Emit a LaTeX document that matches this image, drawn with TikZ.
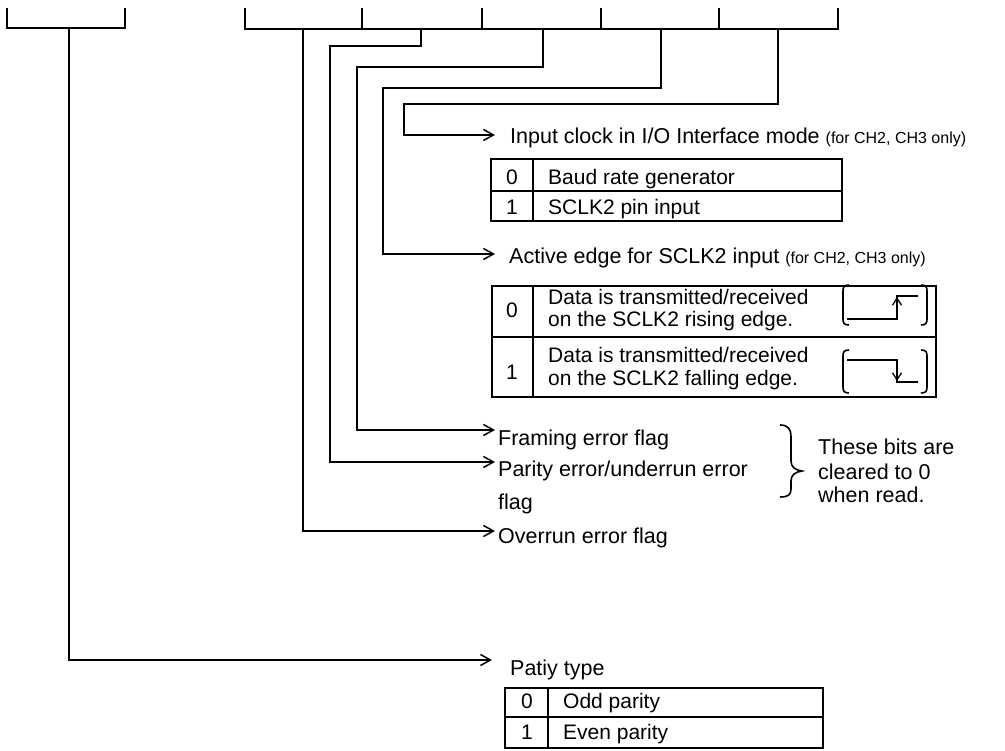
\documentclass[tikz,border=0pt]{standalone}
\usepackage{fontspec}
\setmainfont{Liberation Sans}
\usetikzlibrary{arrows.meta}
\begin{document}
\begin{tikzpicture}[x=1pt,y=-1pt,
  ln/.style={line width=1.8pt},
  arr/.style={ln,-{Straight Barb[length=10pt,width=11pt,line width=1.5pt]}},
  sarr/.style={line width=1.6pt,-{Straight Barb[length=7pt,width=9pt,line width=1.3pt]}},
  lbl/.style={anchor=base west,inner sep=0pt,font=\fontsize{21.5}{24}\selectfont},
  dig/.style={anchor=base,inner sep=0pt,font=\fontsize{21}{24}\selectfont},
  cell/.style={anchor=base west,inner sep=0pt,font=\fontsize{21}{24}\selectfont}
]
\useasboundingbox (0,0) rectangle (1005,751);

% ---- register brackets ----
\draw[ln] (7,8) -- (7,28) -- (125,28) -- (125,8);
\draw[ln] (245,8) -- (245,29) -- (838,29) -- (838,8);
\foreach \x in {362,482,601,719} \draw[ln] (\x,8) -- (\x,29);

% bit taps
\coordinate (b7) at (69,28);
\coordinate (b4) at (303,29);
\coordinate (b3) at (421,29);
\coordinate (b2) at (543,29);
\coordinate (b1) at (661,29);
\coordinate (b0) at (778,29);

% arrow tips
\coordinate (e0) at (495,135);
\coordinate (e1) at (495,254);
\coordinate (e2) at (495,430);
\coordinate (e3) at (495,462);
\coordinate (e4) at (495,531);
\coordinate (e7) at (492,660);

% ---- connectors ----
\draw[arr] (b0) -- (778,104) -- (404,104) -- (404,135) -- (e0);
\draw[arr] (b1) -- (661,88) -- (383,88) -- (383,254) -- (e1);
\draw[arr] (b2) -- (543,67) -- (357,67) -- (357,430) -- (e2);
\draw[arr] (b3) -- (421,46) -- (330,46) -- (330,462) -- (e3);
\draw[arr] (b4) -- (303,531) -- (e4);
\draw[arr] (b7) -- (69,660) -- (e7);

% ---- labels ----
\node[lbl] (inclk) at (510,144) {Input clock in I/O Interface mode {\fontsize{16}{18}\selectfont (for CH2, CH3 only)}};
\node[lbl] (actedge) at (509,264) {Active edge for SCLK2 input {\fontsize{16}{18}\selectfont (for CH2, CH3 only)}};
\node[lbl] (fer) at (498,446) {Framing error flag};
\node[lbl] (per) at (498,477) {Parity error/underrun error};
\node[lbl] (per2) at (498,509) {flag};
\node[lbl] (oer) at (498,543) {Overrun error flag};
\node[lbl] (pty) at (510,675) {Patiy type};

% ---- table 1 ----
\draw[ln] (491,159) rectangle (842,221);
\draw[ln] (491,191) -- (842,191);
\draw[ln] (533,159) -- (533,221);
\node[dig] (t1d0) at (512,185) {0};
\node[cell] (t1c0) at (548,185) {Baud rate generator};
\node[dig] (t1d1) at (512,215) {1};
\node[cell] (t1c1) at (548,215) {SCLK2 pin input};

% ---- table 2 ----
\draw[ln] (492,286) rectangle (936,397);
\draw[ln] (492,337) -- (936,337);
\draw[ln] (533,286) -- (533,397);
\node[dig] (t2d0) at (512,318) {0};
\node[cell] (t2c0a) at (548,305) {Data is transmitted/received};
\node[cell] (t2c0b) at (548,327) {on the SCLK2 rising edge.};
\node[dig] (t2d1) at (512,380) {1};
\node[cell] (t2c1a) at (548,363) {Data is transmitted/received};
\node[cell] (t2c1b) at (548,386) {on the SCLK2 falling edge.};

% waveform brackets
\foreach \ya/\yb in {285/325, 350/393}{
  \draw[line width=1.6pt] (849,\ya) .. controls (844,\ya) and (843,\ya+2) .. (843,\ya+6) -- (843,\yb-6) .. controls (843,\yb-2) and (844,\yb) .. (849,\yb);
  \draw[line width=1.6pt] (921,\ya) .. controls (926,\ya) and (927,\ya+2) .. (927,\ya+6) -- (927,\yb-6) .. controls (927,\yb-2) and (926,\yb) .. (921,\yb);
}
% rising edge
\draw[line width=1.6pt] (847,319) -- (897,319) -- (897,296) -- (918,296);
\draw[sarr] (897,312) -- (897,297);
% falling edge
\draw[line width=1.6pt] (847,360) -- (897,360) -- (897,382) -- (918,382);
\draw[sarr] (897,367) -- (897,381);

% ---- brace ----
\draw[line width=1.6pt] (780,425) .. controls (788,425) and (791,429) .. (791,437) -- (791,461) .. controls (791,467) and (795,470) .. (802,471) .. controls (795,472) and (791,475) .. (791,481) -- (791,489) .. controls (791,495) and (788,497) .. (780,497);
\node[lbl] (clr1) at (818,455) {These bits are};
\node[lbl] (clr2) at (818,479) {cleared to 0};
\node[lbl] (clr3) at (818,502) {when read.};

% ---- table 3 ----
\draw[ln] (505,688) rectangle (823,748);
\draw[ln] (505,717) -- (823,717);
\draw[ln] (548,688) -- (548,748);
\node[dig] (t3d0) at (527,708) {0};
\node[cell] (t3c0) at (563,708) {Odd parity};
\node[dig] (t3d1) at (527,739) {1};
\node[cell] (t3c1) at (563,739) {Even parity};
\end{tikzpicture}
\end{document}
